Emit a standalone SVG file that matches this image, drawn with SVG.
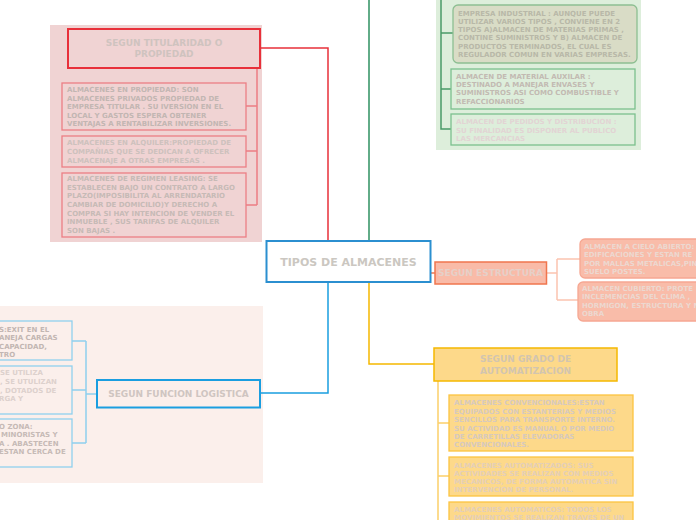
<svg xmlns="http://www.w3.org/2000/svg" width="696" height="520" viewBox="0 0 696 520">
<style>
text{font-family:"DejaVu Sans","Verdana",sans-serif;font-weight:bold}
.t{font-size:9px;text-anchor:middle}
.s{font-size:7px}
.conn{fill:none;stroke-width:1.5}
</style>
<rect width="696" height="520" fill="#ffffff"/>
<rect x="50" y="25" width="212" height="217" fill="#f0d3d3"/>
<rect x="436" y="0" width="205" height="150" fill="#ddeedb"/>
<rect x="0" y="306" width="263" height="177" fill="#fbefeb"/>
<g id="connectors">
<path class="conn" d="M328,241V48H261" stroke="#e8303a"/>
<path class="conn" d="M369,241V0" stroke="#2e9060"/>
<path class="conn" d="M328,282V393H261" stroke="#1a9ee0"/>
<path class="conn" d="M369,282V364H435" stroke="#f5b800"/>
<path class="conn" d="M431,273H435" stroke="#f0764e"/>
<path class="conn" d="M257,68V205M246,106H257M246,151H257M246,205H257" stroke="#ec7e84"/>
<path class="conn" d="M441,0V129H451M441,33H453M441,89H451" stroke="#4a9a68"/>
<path class="conn" d="M547,273H557M557,259V300M557,259H580M557,300H578" stroke="#fbc3b0"/>
<path class="conn" d="M438,381V520M438,423H449M438,476H449" stroke="#fcd06a"/>
<path class="conn" d="M97,394H86M86,341V443M72,341H86M72,390H86M72,443H86" stroke="#8fd0ee"/>
</g>
<g id="central">
<rect x="266.5" y="241" width="164" height="41" fill="#ffffff" stroke="#2b8fd0" stroke-width="2"/>
<text x="348.5" y="265.8" font-size="11" text-anchor="middle" fill="#cbc7c1">TIPOS DE ALMACENES</text>
</g>
<g id="titularidad">
<rect x="68" y="29" width="192" height="39" fill="#f0d3d3" stroke="#e8303a" stroke-width="2"/>
<text class="t" x="164" y="45.5" fill="#cfc3bf">SEGUN TITULARIDAD O</text>
<text class="t" x="164" y="57" fill="#cfc3bf">PROPIEDAD</text>
</g>
<g id="propiedad">
<rect x="62" y="83" width="184" height="47" fill="#f0d3d3" stroke="#ec7e84" stroke-width="1.3"/>
<text class="s" fill="#c2b6b2"><tspan x="67" y="92">ALMACENES EN PROPIEDAD: SON</tspan><tspan x="67" y="100.5">ALMACENES PRIVADOS PROPIEDAD DE</tspan><tspan x="67" y="109">EMPRESA TITULAR . SU IVERSION EN EL</tspan><tspan x="67" y="117.5">LOCAL Y GASTOS ESPERA OBTENER</tspan><tspan x="67" y="126">VENTAJAS A RENTABILIZAR INVERSIONES.</tspan></text>
</g>
<g id="alquiler">
<rect x="62" y="136" width="184" height="31" fill="#f0d3d3" stroke="#ec7e84" stroke-width="1.3"/>
<text class="s" fill="#cdc1bd"><tspan x="67" y="145.2">ALMACENES EN ALQUILER:PROPIEDAD DE</tspan><tspan x="67" y="153.8">COMPAÑIAS QUE SE DEDICAN A OFRECER</tspan><tspan x="67" y="162.5">ALMACENAJE A OTRAS EMPRESAS .</tspan></text>
</g>
<g id="leasing">
<rect x="62" y="173" width="184" height="64" fill="#f0d3d3" stroke="#ec7e84" stroke-width="1.3"/>
<text class="s" fill="#c6bab6"><tspan x="67" y="181">ALMACENES DE REGIMEN LEASING: SE</tspan><tspan x="67" y="189.7">ESTABLECEN BAJO UN CONTRATO A LARGO</tspan><tspan x="67" y="198.4">PLAZO(IMPOSIBILITA AL ARRENDATARIO</tspan><tspan x="67" y="207">CAMBIAR DE DOMICILIO)Y DERECHO A</tspan><tspan x="67" y="215.7">COMPRA SI HAY INTENCION DE VENDER EL</tspan><tspan x="67" y="224.4">INMUEBLE , SUS TARIFAS DE ALQUILER</tspan><tspan x="67" y="233">SON BAJAS .</tspan></text>
</g>
<g id="industrial">
<rect x="453" y="5" width="184" height="58" rx="5" fill="#d9dcc6" stroke="#8dbf92" stroke-width="1.3"/>
<text class="s" fill="#b8b8a8"><tspan x="458" y="15.8">EMPRESA INDUSTRIAL : AUNQUE PUEDE</tspan><tspan x="458" y="24">UTILIZAR VARIOS TIPOS , CONVIENE EN 2</tspan><tspan x="458" y="32.2">TIPOS A)ALMACEN DE MATERIAS PRIMAS ,</tspan><tspan x="458" y="40.4">CONTINE SUMINISTROS  Y B) ALMACEN DE</tspan><tspan x="458" y="48.6">PRODUCTOS TERMINADOS, EL CUAL ES</tspan><tspan x="458" y="56.8">REGULADOR COMUN EN VARIAS EMPRESAS.</tspan></text>
</g>
<g id="auxiliar">
<rect x="451" y="69" width="184" height="40" fill="#ddeedb" stroke="#7cc08e" stroke-width="1.3"/>
<text class="s" fill="#c2bab2"><tspan x="456" y="78.5">ALMACEN DE MATERIAL AUXILAR :</tspan><tspan x="456" y="86.8">DESTINADO A MANEJAR ENVASES Y</tspan><tspan x="456" y="95.2">SUMINISTROS ASI COMO COMBUSTIBLE Y</tspan><tspan x="456" y="103.5">REFACCIONARIOS</tspan></text>
</g>
<g id="pedidos">
<rect x="451" y="114" width="184" height="31" fill="#ddeedb" stroke="#7cc08e" stroke-width="1.3"/>
<text class="s" fill="#e2d4d4"><tspan x="456" y="124.2">ALMACEN DE PEDIDOS Y DISTRIBUCION :</tspan><tspan x="456" y="132.5">SU FINALIDAD ES DISPONER AL PUBLICO</tspan><tspan x="456" y="140.8">LAS MERCANCIAS</tspan></text>
</g>
<g id="estructura">
<rect x="435" y="262" width="111.5" height="22" fill="#f9bba8" stroke="#f0764e" stroke-width="1.5"/>
<text class="t" x="490.5" y="276.3" fill="#e6d0c8">SEGUN ESTRUCTURA</text>
</g>
<g id="cielo">
<rect x="580" y="239" width="130" height="39" rx="5" fill="#f9bca9" stroke="#f6a792" stroke-width="1.3"/>
<text class="s" fill="#ecd8d0"><tspan x="584" y="249.2">ALMACEN A CIELO ABIERTO:</tspan><tspan x="584" y="257.2">EDIFICACIONES Y ESTAN RE</tspan><tspan x="584" y="265.7">POR MALLAS METALICAS,PIN</tspan><tspan x="584" y="273.7">SUELO POSTES.</tspan></text>
</g>
<g id="cubierto">
<rect x="578" y="282" width="130" height="39" rx="5" fill="#f9bca9" stroke="#f6a792" stroke-width="1.3"/>
<text class="s" fill="#ecd8d0"><tspan x="582" y="290.5">ALMACEN  CUBIERTO: PROTE</tspan><tspan x="582" y="298.7">INCLEMENCIAS DEL CLIMA ,</tspan><tspan x="582" y="307.5">HORMIGON, ESTRUCTURA Y M</tspan><tspan x="582" y="315.7">OBRA</tspan></text>
</g>
<g id="automatizacion">
<rect x="434" y="348" width="183" height="33" fill="#fdd98a" stroke="#f5b800" stroke-width="1.5"/>
<text class="t" x="525.5" y="362" fill="#d2c5b0">SEGUN GRADO DE</text>
<text class="t" x="525.5" y="373.5" fill="#d2c5b0">AUTOMATIZACION</text>
</g>
<g id="convencionales">
<rect x="449" y="395" width="184" height="56" fill="#fdd98a" stroke="#fcc440" stroke-width="1.3"/>
<text class="s" fill="#d6c9bf"><tspan x="454" y="404.8">ALMACENES CONVENCIONALES:ESTAN</tspan><tspan x="454" y="413.5">EQUIPADOS CON ESTANTERIAS Y MEDIOS</tspan><tspan x="454" y="422.2">SENCILLOS PARA TRANSPORTE INTERNO.</tspan><tspan x="454" y="430.5">SU ACTIVIDAD ES MANUAL O POR MEDIO</tspan><tspan x="454" y="439.2">DE CARRETILLAS ELEVADORAS</tspan><tspan x="454" y="447.2">CONVENCIONALES.</tspan></text>
</g>
<g id="automatizados">
<rect x="449" y="457" width="184" height="39" fill="#fdd98a" stroke="#fcc440" stroke-width="1.3"/>
<text class="s" fill="#e4cfb8"><tspan x="454" y="467.5">ALMACENES AUTOMATIZADOS: SUS</tspan><tspan x="454" y="475.5">ACTIVIDADES SE REALIZAN CON MEDIOS</tspan><tspan x="454" y="484.2">MECANICOS, DE FORMA AUTOMATICA SIN</tspan><tspan x="454" y="492.2">INTERVENCION DE PERSONAL.</tspan></text>
</g>
<g id="automaticos">
<rect x="449" y="502" width="184" height="30" fill="#fdd98a" stroke="#fcc440" stroke-width="1.3"/>
<text class="s" fill="#e4cfb8"><tspan x="454" y="511.8">ALMACENES AUTOMATICOS: TODOS LOS</tspan><tspan x="454" y="520.3">MOVIMIENTOS SE REALIZAN TRAVES DE UN</tspan></text>
</g>
<g id="logistica">
<rect x="97" y="380" width="163" height="27.5" fill="#fbefeb" stroke="#1a9ee0" stroke-width="2"/>
<text class="t" x="178.5" y="397" fill="#cfc5c1">SEGUN FUNCION LOGISTICA</text>
</g>
<g id="logistica1">
<rect x="-10" y="321" width="82" height="39" fill="#fbefeb" stroke="#8fd0ee" stroke-width="1.3"/>
<text class="s" fill="#c2b6b2"><tspan x="-1" y="331.5">S:EXIT EN EL</tspan><tspan x="-1" y="340">ANEJA CARGAS</tspan><tspan x="-1" y="348.5">CAPACIDAD,</tspan><tspan x="-1" y="356.5">TRO</tspan></text>
</g>
<g id="logistica2">
<rect x="-10" y="366" width="82" height="48" fill="#fbefeb" stroke="#8fd0ee" stroke-width="1.3"/>
<text class="s" fill="#ddd1cd"><tspan x="0" y="375">SE UTILIZA</tspan><tspan x="0" y="383.8">, SE UTULIZAN</tspan><tspan x="0" y="392.5">, DOTADOS DE</tspan><tspan x="-1" y="400.5">RGA Y</tspan></text>
</g>
<g id="logistica3">
<rect x="-10" y="419" width="82" height="48" fill="#fbefeb" stroke="#8fd0ee" stroke-width="1.3"/>
<text class="s" fill="#c6bab6"><tspan x="-1" y="428.5">O ZONA:</tspan><tspan x="1" y="437.3">MINORISTAS Y</tspan><tspan x="-1" y="445.5">A . ABASTECEN</tspan><tspan x="-1" y="454.2">ESTAN CERCA DE</tspan></text>
</g>
</svg>
